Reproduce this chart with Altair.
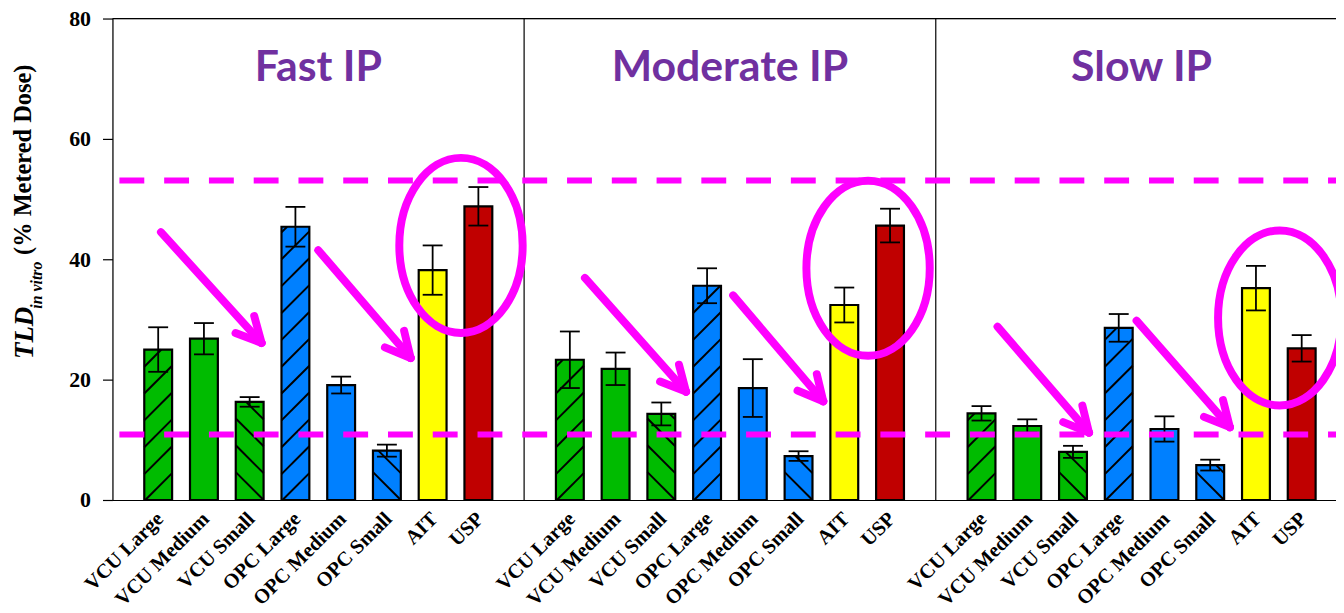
import math
import altair as alt
import pandas as pd

# ---------------- data ----------------
panels = ["Fast IP", "Moderate IP", "Slow IP"]
categories = ["VCU Large", "VCU Medium", "VCU Small", "OPC Large",
              "OPC Medium", "OPC Small", "AIT", "USP"]
bar_colors = ["#00BB00", "#00BB00", "#00BB00", "#0080FF",
              "#0080FF", "#0080FF", "#FFFF00", "#C00000"]
hatch_kind = ["/", "", "\\", "/", "", "\\", "", ""]

fast_mean = [25.0, 26.8, 16.3, 45.4, 19.1, 8.2, 38.2, 48.8]
fast_err = [3.7, 2.6, 0.8, 3.3, 1.4, 1.0, 4.1, 3.2]
moderate_mean = [23.3, 21.8, 14.3, 35.6, 18.6, 7.3, 32.4, 45.6]
moderate_err = [4.7, 2.7, 1.9, 2.9, 4.8, 0.8, 2.9, 2.8]
slow_mean = [14.4, 12.3, 8.0, 28.6, 11.8, 5.8, 35.2, 25.2]
slow_err = [1.2, 1.1, 1.0, 2.3, 2.1, 0.9, 3.7, 2.2]

ref_lines = [53.1, 10.9]

# annotation arrows (start x, start y, tip x, tip y) in slot / value units
arrow_x0 = [1.06, 4.50, 10.33, 13.57, 19.35, 22.39]
arrow_y0 = [44.5, 41.5, 36.9, 34.0, 28.8, 29.8]
arrow_x1 = [3.26, 6.52, 12.54, 15.54, 21.35, 24.43]
arrow_y1 = [26.1, 23.6, 18.0, 16.4, 11.2, 12.1]

# annotation ellipses (centre) in slot / value units
ellipse_x = [7.62, 16.52, 25.52]
ellipse_y = [42.3, 38.5, 30.25]

# ---------------- geometry ----------------
X_MAX = 26.75
PLOT_W = 1230
PLOT_H = 484
PX_X = PLOT_W / X_MAX
PX_Y = PLOT_H / 80.0
BAR_HALF_PX = 14
CAP_HALF_PX = 10
HATCH_GAP_PX = 27
MAGENTA = "#FF00FF"

means = [fast_mean, moderate_mean, slow_mean]
errs = [fast_err, moderate_err, slow_err]

bar_rows, hatch_rows, label_rows = [], [], []
for p, panel in enumerate(panels):
    for i, cat in enumerate(categories):
        pos = 9 * p + i + 1
        m = means[p][i]
        e = errs[p][i]
        hw = BAR_HALF_PX / PX_X
        bar_rows.append(dict(panel=panel, cat=cat, pos=pos, x0=pos - hw, x1=pos + hw,
                             mean=m, zero=0.0, lo=m - e, hi=m + e,
                             c0=pos - CAP_HALF_PX / PX_X, c1=pos + CAP_HALF_PX / PX_X,
                             color=bar_colors[i]))
        label_rows.append(dict(pos=pos, y=0.0, label=cat))
        kind = hatch_kind[i]
        if kind:
            h = m * PX_Y
            half = BAR_HALF_PX
            k = -3
            while True:
                c = -half + k * HATCH_GAP_PX
                if kind == "/":
                    # v = u + c
                    if c > h + half:
                        break
                    ua, ub = max(-half, -c), min(half, h - c)
                    if ub - ua > 1:
                        hatch_rows.append(dict(x=pos + ua / PX_X, y=(ua + c) / PX_Y,
                                               x2=pos + ub / PX_X, y2=(ub + c) / PX_Y))
                else:
                    # v = -u + c
                    c2 = c + 2 * half
                    if c2 - half > h + half:
                        break
                    ua, ub = max(-half, c2 - h), min(half, c2)
                    if ub - ua > 1:
                        hatch_rows.append(dict(x=pos + ua / PX_X, y=(c2 - ua) / PX_Y,
                                               x2=pos + ub / PX_X, y2=(c2 - ub) / PX_Y))
                k += 1

bars = pd.DataFrame(bar_rows)
hatch = pd.DataFrame(hatch_rows)
labels = pd.DataFrame(label_rows)

# arrows: shaft + two head arms
arrow_rows = []
ARM_PX = 28
ARM_ANG = math.radians(27)
for x0, y0, x1, y1 in zip(arrow_x0, arrow_y0, arrow_x1, arrow_y1):
    arrow_rows.append(dict(x=x0, y=y0, x2=x1, y2=y1))
    ang = math.atan2((y1 - y0) * PX_Y, (x1 - x0) * PX_X)
    back = ang + math.pi
    for s in (1, -1):
        a = back + s * ARM_ANG
        arrow_rows.append(dict(x=x1, y=y1,
                               x2=x1 + ARM_PX * math.cos(a) / PX_X,
                               y2=y1 + ARM_PX * math.sin(a) / PX_Y))
arrows = pd.DataFrame(arrow_rows)

ellipses = pd.DataFrame(dict(x=ellipse_x, y=ellipse_y))
titles = pd.DataFrame(dict(pos=[4.5, 13.5, 22.5], y=[69.6] * 3, label=panels))
dash_df = pd.DataFrame(dict(y=ref_lines, x=[7 / PX_X] * 2, x2=[X_MAX] * 2))
sep_df = pd.DataFrame(dict(x=[9, 18]))
top_df = pd.DataFrame(dict(y=[80.0], x=[0.0], x2=[X_MAX]))

# ---------------- chart ----------------
xs = alt.Scale(domain=[0, X_MAX], nice=False, zero=False)
ys = alt.Scale(domain=[0, 80], nice=False)
xax = alt.Axis(labels=False, ticks=False, grid=False, title=None,
               domainColor="black", domainWidth=1.2)
yax = alt.Axis(values=[0, 20, 40, 60, 80], grid=False, title=None,
               labelFont="Liberation Serif", labelFontWeight="bold",
               labelFontSize=22, labelColor="black", labelPadding=12,
               tickColor="black", tickSize=10, tickWidth=1.2,
               domainColor="black", domainWidth=1.2)

bar_layer = alt.Chart(bars).mark_bar(stroke="black", strokeWidth=2.2).encode(
    x=alt.X("x0:Q", scale=xs, axis=xax),
    x2="x1:Q",
    y=alt.Y("mean:Q", scale=ys, axis=yax),
    y2="zero:Q",
    color=alt.Color("color:N", scale=None),
)

hatch_layer = alt.Chart(hatch).mark_rule(color="black", strokeWidth=2).encode(
    x="x:Q", y="y:Q", x2="x2:Q", y2="y2:Q")

err_layer = alt.Chart(bars).mark_rule(color="black", strokeWidth=1.8).encode(
    x="pos:Q", y="lo:Q", y2="hi:Q")
cap_hi = alt.Chart(bars).mark_rule(color="black", strokeWidth=1.8).encode(
    x="c0:Q", x2="c1:Q", y="hi:Q")
cap_lo = alt.Chart(bars).mark_rule(color="black", strokeWidth=1.8).encode(
    x="c0:Q", x2="c1:Q", y="lo:Q")

sep_layer = alt.Chart(sep_df).mark_rule(color="black", strokeWidth=1.2).encode(x="x:Q")
top_layer = alt.Chart(top_df).mark_rule(color="black", strokeWidth=1.2).encode(
    x="x:Q", x2="x2:Q", y="y:Q")

dash_layer = alt.Chart(dash_df).mark_rule(
    color=MAGENTA, strokeWidth=6, strokeDash=[25, 20]).encode(
    x="x:Q", x2="x2:Q", y="y:Q")

arrow_layer = alt.Chart(arrows).mark_rule(
    color=MAGENTA, strokeWidth=8, strokeCap="round").encode(
    x="x:Q", y="y:Q", x2="x2:Q", y2="y2:Q")

a = 62 / 88
kk = 0.5523
ell_path = (f"M {a} 0 C {a} {kk}, {a*kk} 1, 0 1 C {-a*kk} 1, {-a} {kk}, {-a} 0 "
            f"C {-a} {-kk}, {-a*kk} -1, 0 -1 C {a*kk} -1, {a} {-kk}, {a} 0 Z")
ellipse_layer = alt.Chart(ellipses).mark_point(
    shape=ell_path, size=(2 * 88) ** 2, filled=False,
    stroke=MAGENTA, strokeWidth=8, opacity=1).encode(x="x:Q", y="y:Q")

title_layer = alt.Chart(titles).mark_text(
    font="Lato", fontWeight="bold", fontSize=43, color="#7030A0",
    align="center", baseline="alphabetic").encode(
    x="pos:Q", y="y:Q", text="label:N")

label_layer = alt.Chart(labels).mark_text(
    font="Liberation Serif", fontWeight="bold", fontSize=20.5, color="black",
    angle=315, align="right", baseline="middle", xOffset=2, yOffset=16).encode(
    x="pos:Q", y="y:Q", text="label:N")

ytitle_df = pd.DataFrame(dict(t=["TLD"]))
yt1 = alt.Chart(ytitle_df).mark_text(
    font="Liberation Serif", fontWeight="bold", fontStyle="italic", fontSize=27,
    angle=270, align="center", baseline="middle", color="black").encode(
    x=alt.value(-88), y=alt.value(316), text=alt.value("TLD"))
yt2 = alt.Chart(ytitle_df).mark_text(
    font="Liberation Serif", fontWeight="bold", fontStyle="italic", fontSize=16,
    angle=270, align="center", baseline="middle", color="black").encode(
    x=alt.value(-76), y=alt.value(268), text=alt.value("in vitro"))
yt3 = alt.Chart(ytitle_df).mark_text(
    font="Liberation Serif", fontWeight="bold", fontSize=24.5,
    angle=270, align="center", baseline="middle", color="black").encode(
    x=alt.value(-89), y=alt.value(142), text=alt.value("(% Metered Dose)"))

chart = alt.layer(
    bar_layer, hatch_layer, err_layer, cap_hi, cap_lo, sep_layer, top_layer,
    dash_layer, arrow_layer, ellipse_layer, title_layer, label_layer,
    yt1, yt2, yt3,
).properties(
    width=PLOT_W, height=PLOT_H,
    autosize=alt.AutoSizeParams(type="none"),
    padding={"left": 105, "top": 9, "right": 0, "bottom": 110},
).configure_view(stroke=None).configure(background="white")

chart.save("out.html", embed_options={"renderer": "svg", "actions": False})
